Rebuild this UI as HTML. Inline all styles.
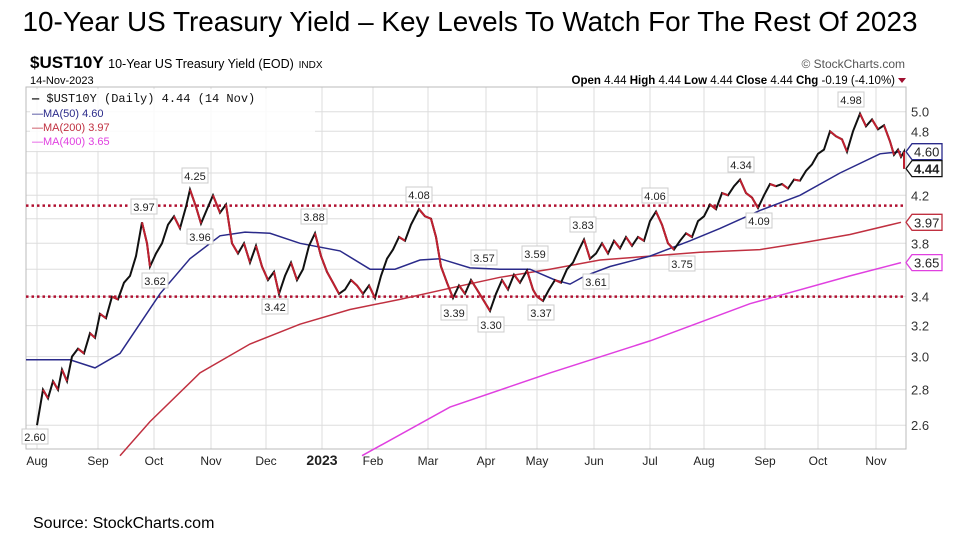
<!DOCTYPE html>
<html><head><meta charset="utf-8"><style>
body{margin:0;background:#fff;width:960px;height:539px;overflow:hidden;font-family:"Liberation Sans",sans-serif}
svg{position:absolute;left:0;top:0}
</style></head><body>
<svg id="s" width="960" height="539" xmlns="http://www.w3.org/2000/svg" font-family="Liberation Sans, sans-serif">
<text x="470" y="31" text-anchor="middle" font-size="27.5" fill="#000" textLength="895" lengthAdjust="spacingAndGlyphs" font-family="Liberation Sans, sans-serif">10-Year US Treasury Yield – Key Levels To Watch For The Rest Of 2023</text>
<text x="33" y="528" font-size="16" fill="#000">Source: StockCharts.com</text>
<text x="30" y="68" font-size="17" font-weight="bold">$UST10Y <tspan font-size="12.5" font-weight="normal">10-Year US Treasury Yield (EOD)</tspan> <tspan font-size="10" font-weight="normal">INDX</tspan></text>
<text x="30" y="84" font-size="11">14-Nov-2023</text>
<text x="905" y="68" font-size="12" fill="#555" text-anchor="end">© StockCharts.com</text>
<text x="895" y="84" font-size="11.5" text-anchor="end"><tspan font-weight="bold">Open</tspan> 4.44 <tspan font-weight="bold">High</tspan> 4.44 <tspan font-weight="bold">Low</tspan> 4.44 <tspan font-weight="bold">Close</tspan> 4.44 <tspan font-weight="bold">Chg</tspan> -0.19 (-4.10%)</text>
<polygon points="898,78 906,78 902,83" fill="#a01030"/>
<g id="g"></g>
</svg>
<script>
var g=document.getElementById('g'),h='';
function Y(v){return 111.7+(Math.log10(5)-Math.log10(v))*1104;}
var L=26,R=906,T=87,B=449;
var months=[[37,'Aug'],[98,'Sep'],[154,'Oct'],[211,'Nov'],[266,'Dec'],[322,'2023'],[373,'Feb'],[428,'Mar'],[486,'Apr'],[537,'May'],[594,'Jun'],[650,'Jul'],[704,'Aug'],[765,'Sep'],[818,'Oct'],[876,'Nov']];
months.forEach(function(m){h+='<line x1="'+m[0]+'" y1="'+T+'" x2="'+m[0]+'" y2="'+B+'" stroke="#ddd"/>';
h+='<text x="'+m[0]+'" y="465" font-size="'+(m[1]=='2023'?14:12)+'" '+(m[1]=='2023'?'font-weight="bold"':'')+' text-anchor="middle" fill="#222">'+m[1]+'</text>';});
[2.6,2.8,3.0,3.2,3.4,3.6,3.8,4.0,4.2,4.4,4.6,4.8,5.0].forEach(function(v){var y=Y(v);h+='<line x1="'+L+'" y1="'+y+'" x2="'+R+'" y2="'+y+'" stroke="#ddd"/>';
if([3.6,4.0,4.4,4.6].indexOf(v)<0||v==4.0)h+='<text x="911" y="'+(y+5)+'" font-size="13" fill="#333">'+v.toFixed(1)+'</text>';});
h+='<rect x="'+L+'" y="'+T+'" width="'+(R-L)+'" height="'+(B-T)+'" fill="none" stroke="#bbb"/>';
[4.11,3.40].forEach(function(v){h+='<line x1="'+L+'" y1="'+Y(v)+'" x2="'+R+'" y2="'+Y(v)+'" stroke="#b01030" stroke-width="2.5" stroke-dasharray="2.5,3"/>';});
function path(pts,c,w){var d=pts.map(function(p,i){return (i?'L':'M')+p[0]+','+Y(p[1]).toFixed(1)}).join('');h+='<path d="'+d+'" fill="none" stroke="'+c+'" stroke-width="'+w+'"/>';}
path([[362,2.44],[450,2.70],[550,2.90],[650,3.10],[750,3.35],[850,3.55],[901,3.65]],'#e040e0',1.5);
path([[120,2.44],[150,2.62],[200,2.90],[250,3.08],[300,3.21],[350,3.31],[400,3.38],[450,3.46],[500,3.54],[550,3.60],[600,3.67],[650,3.70],[700,3.73],[760,3.75],[800,3.80],[850,3.87],[901,3.97]],'#c03040',1.5);
path([[26,2.98],[70,2.98],[95,2.93],[120,3.02],[160,3.42],[190,3.68],[220,3.86],[245,3.89],[270,3.88],[300,3.80],[340,3.74],[370,3.60],[395,3.60],[420,3.67],[440,3.68],[470,3.61],[500,3.60],[530,3.60],[555,3.52],[570,3.49],[585,3.55],[610,3.62],[650,3.70],[690,3.82],[720,3.92],[760,4.07],[800,4.20],[840,4.40],[880,4.58],[901,4.60]],'#2a2a8a',1.5);
var P=[[37,2.60],[43,2.80],[48,2.75],[53,2.85],[58,2.80],[62,2.92],[67,2.85],[72,3.00],[78,3.05],[84,3.02],[90,3.15],[95,3.12],[100,3.28],[106,3.25],[112,3.40],[118,3.38],[124,3.50],[130,3.55],[136,3.70],[142,3.97],[147,3.80],[150,3.62],[156,3.72],[162,3.80],[168,3.95],[174,4.02],[180,3.92],[186,4.10],[190,4.25],[196,4.10],[201,3.96],[207,4.08],[213,4.20],[220,4.05],[226,4.12],[232,3.80],[238,3.72],[244,3.80],[250,3.65],[256,3.78],[262,3.62],[268,3.52],[274,3.58],[279,3.42],[285,3.55],[291,3.65],[297,3.52],[303,3.60],[309,3.78],[315,3.88],[321,3.70],[327,3.58],[333,3.50],[339,3.42],[345,3.45],[351,3.52],[357,3.48],[363,3.42],[369,3.48],[375,3.39],[381,3.55],[387,3.68],[393,3.75],[399,3.85],[405,3.82],[411,3.95],[419,4.08],[425,4.02],[431,4.00],[436,3.85],[441,3.62],[447,3.50],[453,3.39],[459,3.48],[465,3.42],[471,3.52],[477,3.45],[483,3.38],[490,3.30],[496,3.42],[502,3.52],[508,3.45],[514,3.56],[520,3.50],[527,3.59],[533,3.45],[537,3.40],[543,3.37],[549,3.45],[555,3.52],[561,3.50],[567,3.60],[573,3.65],[579,3.75],[584,3.83],[590,3.68],[596,3.72],[602,3.80],[608,3.72],[614,3.82],[620,3.76],[626,3.85],[632,3.78],[638,3.85],[644,3.82],[650,3.98],[656,4.06],[662,3.95],[668,3.80],[674,3.75],[680,3.82],[686,3.88],[692,3.85],[698,3.98],[704,4.02],[710,4.12],[716,4.08],[722,4.22],[728,4.20],[734,4.28],[740,4.34],[746,4.22],[752,4.18],[758,4.09],[764,4.20],[770,4.30],[776,4.28],[782,4.30],[788,4.26],[794,4.34],[800,4.33],[806,4.42],[812,4.48],[818,4.58],[824,4.62],[830,4.80],[836,4.75],[842,4.72],[847,4.60],[853,4.80],[860,4.98],[866,4.85],[872,4.92],[878,4.82],[884,4.86],[890,4.70],[894,4.57],[898,4.62],[901,4.55],[904,4.60],[904,4.44]];
path(P,'#111',2);
for(var i=1;i<P.length;i++){if(P[i][1]<P[i-1][1])h+='<line x1="'+P[i-1][0]+'" y1="'+Y(P[i-1][1])+'" x2="'+P[i][0]+'" y2="'+Y(P[i][1])+'" stroke="#c02030" stroke-width="2"/>';}
function lab(x,y,t){h+='<rect x="'+(x-13)+'" y="'+(y-9)+'" width="26" height="15" fill="#fff" stroke="#ccc"/><text x="'+x+'" y="'+(y+3)+'" font-size="11" text-anchor="middle" fill="#222">'+t+'</text>';}
lab(35,438,'2.60');lab(144,208,'3.97');lab(155,282,'3.62');lab(195,177,'4.25');lab(200,238,'3.96');lab(275,308,'3.42');lab(314,218,'3.88');lab(419,196,'4.08');lab(454,314,'3.39');lab(491,326,'3.30');lab(484,259,'3.57');lab(535,255,'3.59');lab(541,314,'3.37');lab(583,226,'3.83');lab(596,283,'3.61');lab(655,197,'4.06');lab(682,265,'3.75');lab(741,166,'4.34');lab(759,222,'4.09');lab(851,101,'4.98');
function tag(v,t,c,b){var y=Y(v);h+='<polygon points="906,'+y+' 912,'+(y-8)+' 942,'+(y-8)+' 942,'+(y+8)+' 912,'+(y+8)+'" fill="#fff" stroke="'+c+'" stroke-width="1.3"/><text x="914" y="'+(y+5)+'" font-size="13" '+(b?'font-weight="bold"':'')+' fill="#222">'+t+'</text>';}
tag(4.60,'4.60','#2a2a8a');tag(4.44,'4.44','#111',1);tag(3.97,'3.97','#c03040');tag(3.65,'3.65','#e040e0');
h+='<rect x="30" y="89" width="285" height="62" fill="#fff" fill-opacity="0.85"/>';
h+='<text x="32" y="102" font-size="12" font-family="Liberation Mono, monospace" fill="#111"><tspan font-weight="bold">—</tspan> $UST10Y (Daily) 4.44 (14 Nov)</text>';
h+='<text x="32" y="117" font-size="11" fill="#2a2a8a">—MA(50) 4.60</text>';
h+='<text x="32" y="131" font-size="11" fill="#c03040">—MA(200) 3.97</text>';
h+='<text x="32" y="145" font-size="11" fill="#e040e0">—MA(400) 3.65</text>';
g.innerHTML=h;
</script>
</body></html>
